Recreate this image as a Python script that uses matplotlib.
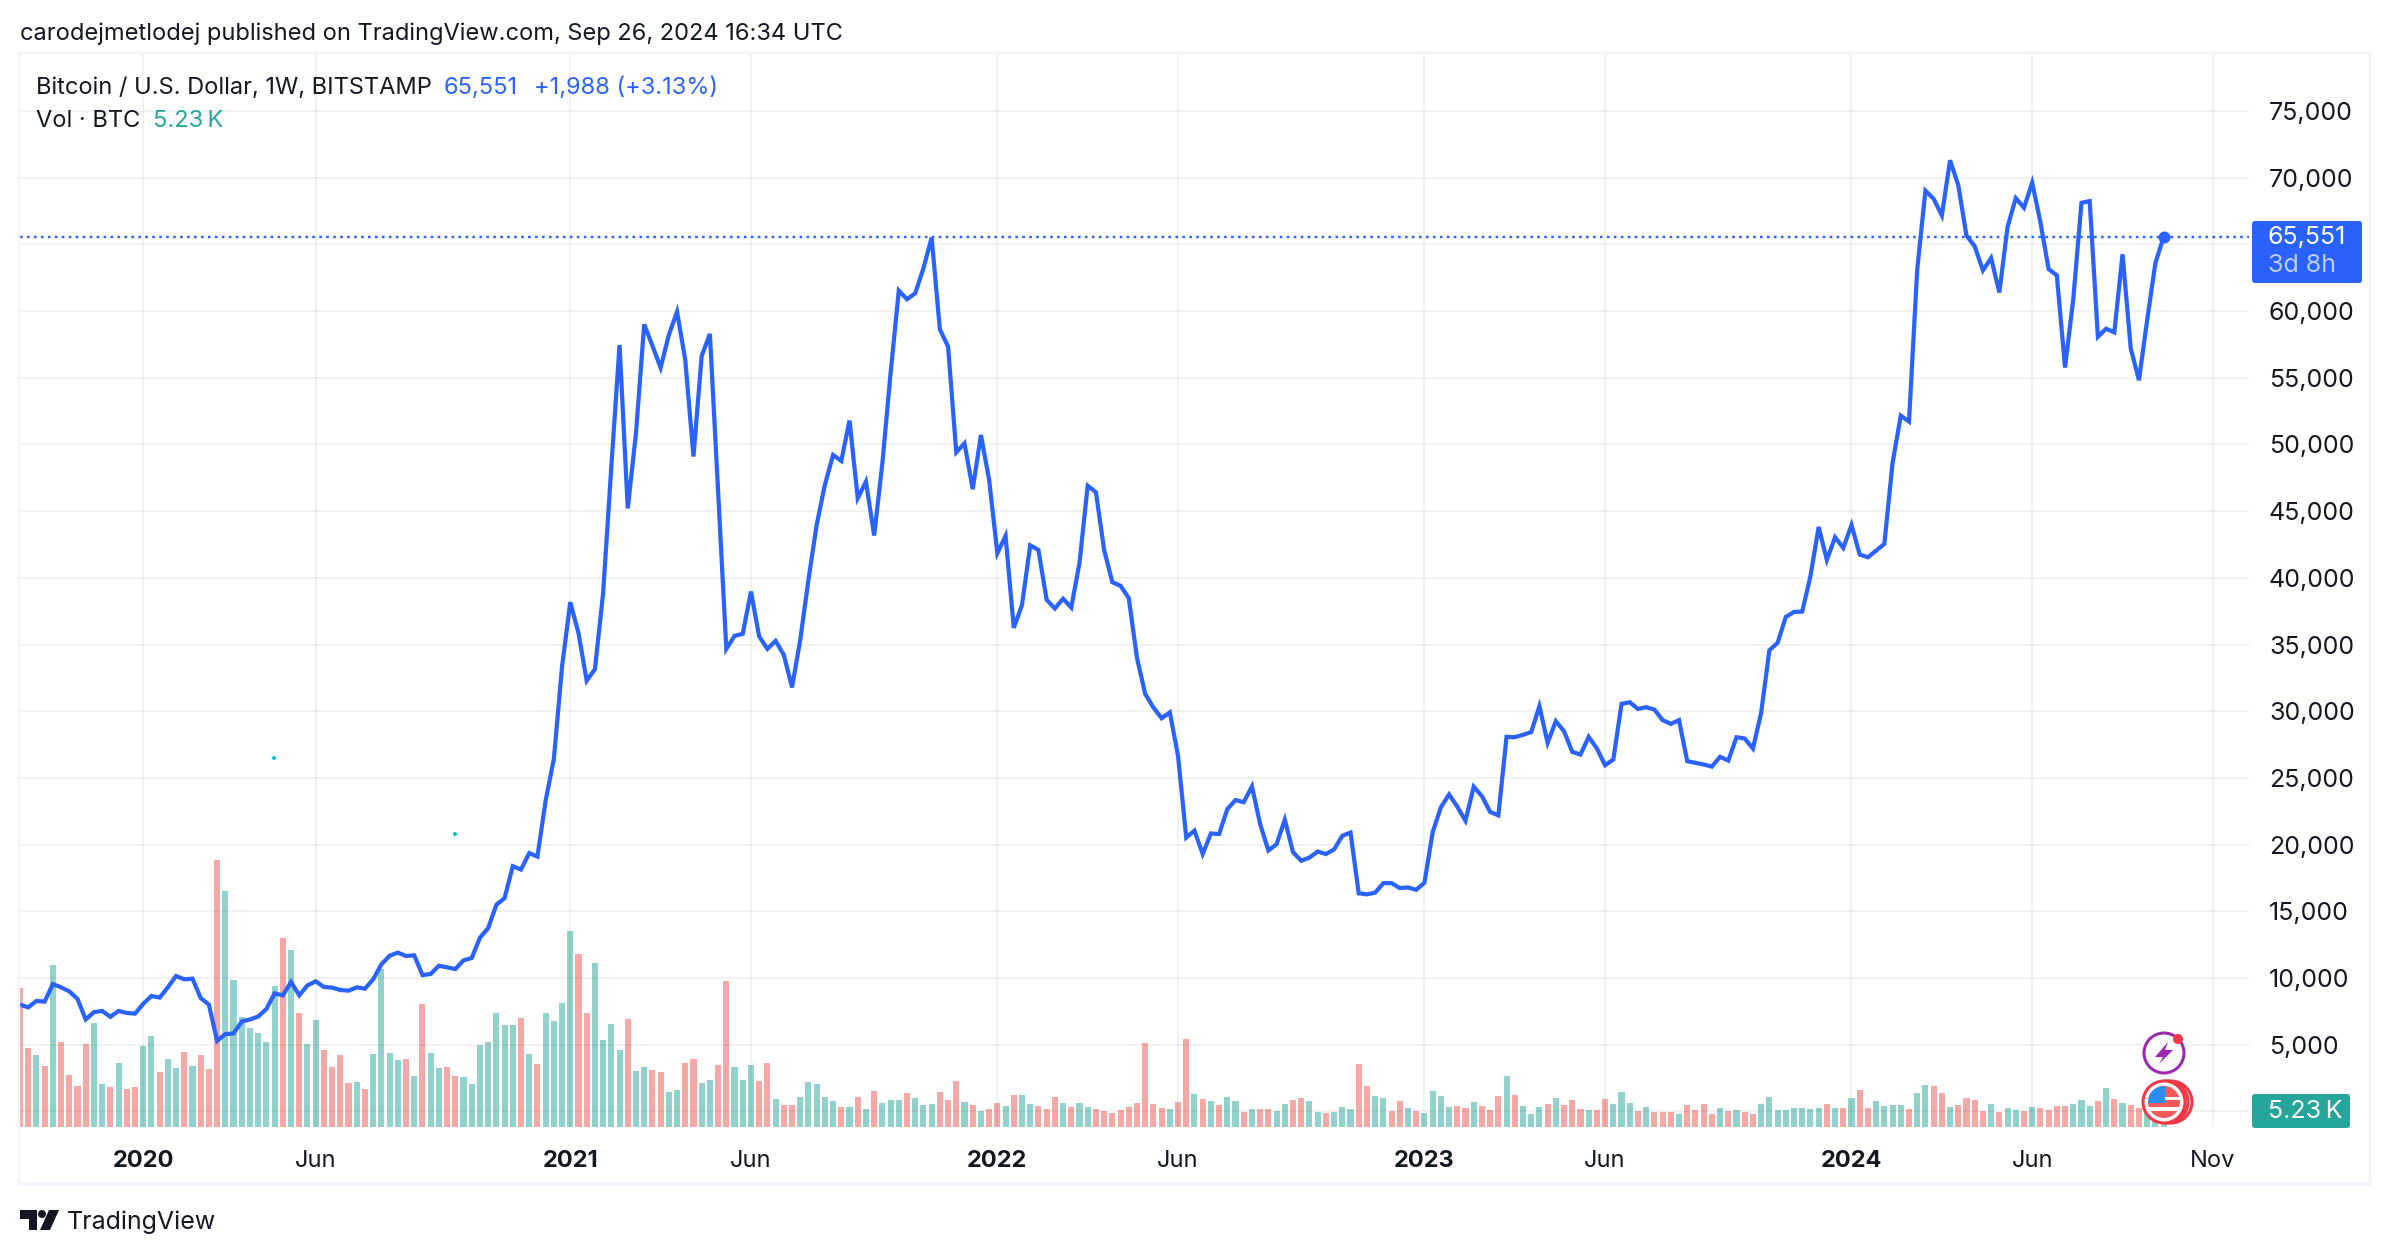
import numpy as np
import matplotlib
matplotlib.use('Agg')
import matplotlib.pyplot as plt
from matplotlib.patches import Rectangle, Circle, Polygon, FancyBboxPatch

plt.rcParams['font.family'] = ['Inter', 'DejaVu Sans']

# weekly close, USD
price = [
    8000, 7800, 8280, 8230, 9550, 9300, 9000, 8430, 6890, 7440,
    7530, 7090, 7530, 7380, 7330, 8060, 8650, 8530, 9300, 10150,
    9900, 9950, 8500, 8000, 5290, 5790, 5840, 6740, 6890, 7110,
    7680, 8850, 8700, 9700, 8700, 9450, 9750, 9330, 9280, 9100,
    9050, 9300, 9200, 9900, 11020, 11670, 11900, 11650, 11700, 10220,
    10300, 10920, 10800, 10670, 11320, 11500, 13020, 13740, 15490, 15990,
    18380, 18130, 19360, 19100, 23300, 26400, 33350, 38170, 35850, 32280,
    33150, 38850, 48340, 57450, 45200, 50840, 59000, 57400, 55750, 58200,
    59950, 56330, 49090, 56630, 58280, 46400, 34670, 35650, 35800, 38970,
    35600, 34670, 35270, 34220, 31780, 35350, 39850, 43970, 46970, 49210,
    48760, 51790, 45960, 47210, 43170, 48590, 55330, 61530, 60880, 61330,
    63200, 65500, 58630, 57330, 49410, 50080, 46640, 50710, 47340, 41840,
    43140, 36250, 37960, 42430, 42090, 38350, 37700, 38430, 37770, 41110,
    46900, 46420, 42090, 39670, 39400, 38480, 34000, 31300, 30280, 29470,
    29910, 26650, 20530, 21050, 19290, 20840, 20790, 22660, 23340, 23180,
    24360, 21530, 19560, 20030, 21870, 19430, 18790, 19030, 19480, 19290,
    19640, 20660, 20900, 16350, 16270, 16400, 17110, 17110, 16740, 16790,
    16610, 17140, 20920, 22790, 23760, 22840, 21790, 24340, 23630, 22450,
    22190, 28080, 28050, 28230, 28430, 30370, 27630, 29250, 28500, 26950,
    26750, 28080, 27200, 25950, 26380, 30550, 30670, 30170, 30300, 30120,
    29330, 29050, 29330, 26250, 26130, 26000, 25850, 26580, 26300, 28050,
    27950, 27200, 29880, 34570, 35120, 37070, 37440, 37470, 40120, 43810,
    41340, 43040, 42240, 43960, 41740, 41540, 42040, 42540, 48610, 52160,
    51710, 63090, 69020, 68410, 67160, 71300, 69420, 65650, 64850, 63040,
    63970, 61390, 66300, 68460, 67740, 69620, 66660, 63140, 62670, 55760,
    60880, 68110, 68240, 58070, 58670, 58400, 64250, 57190, 54810, 59330,
    63590, 65551]

# weekly volume, thousand BTC
volume = [
    45.5, 25.7, 23.4, 19.8, 52.9, 27.7, 16.9, 13.3, 27.0, 33.9,
    14.0, 13.0, 20.8, 12.3, 13.0, 26.4, 29.6, 17.9, 22.1, 19.2,
    24.4, 19.8, 23.4, 18.9, 87.2, 77.1, 48.0, 35.9, 32.3, 30.6,
    27.7, 46.0, 61.7, 57.8, 37.2, 27.0, 34.9, 25.1, 19.5, 23.4,
    14.3, 14.6, 12.3, 23.8, 51.6, 24.1, 21.8, 22.1, 16.6, 40.1,
    24.1, 19.2, 19.5, 16.6, 16.2, 14.0, 26.7, 27.7, 37.2, 33.2,
    33.2, 35.5, 23.8, 20.5, 37.2, 34.6, 40.4, 64.0, 56.5, 37.2,
    53.5, 28.3, 33.6, 25.1, 35.2, 18.2, 19.5, 18.5, 17.9, 11.3,
    12.0, 20.8, 22.1, 14.3, 15.3, 20.2, 47.6, 19.5, 15.3, 20.2,
    14.9, 20.8, 9.0, 7.1, 7.1, 9.7, 14.6, 14.0, 9.7, 8.4,
    6.4, 6.4, 9.7, 5.8, 11.7, 7.7, 8.7, 8.7, 11.0, 9.4,
    7.1, 7.4, 11.3, 8.7, 14.9, 8.1, 7.1, 5.1, 5.8, 7.7,
    6.8, 10.4, 10.4, 7.4, 6.8, 5.8, 9.7, 7.7, 6.4, 7.7,
    6.4, 5.8, 5.1, 4.5, 5.5, 6.4, 7.7, 27.4, 7.4, 6.1,
    5.8, 8.1, 28.7, 10.7, 9.0, 8.4, 7.1, 9.7, 8.4, 4.8,
    5.8, 5.8, 5.8, 5.1, 7.4, 8.7, 9.4, 8.4, 4.8, 4.5,
    4.8, 6.4, 5.8, 20.5, 13.3, 10.0, 9.4, 5.1, 8.4, 6.1,
    5.1, 4.5, 11.7, 10.0, 6.4, 6.8, 6.1, 8.1, 6.8, 5.5,
    10.0, 16.6, 10.4, 6.8, 4.1, 6.4, 7.4, 9.4, 7.1, 8.7,
    5.8, 5.5, 5.5, 9.0, 7.4, 11.3, 7.7, 5.1, 6.4, 4.8,
    4.8, 4.8, 4.1, 7.1, 5.5, 7.4, 4.1, 6.1, 5.1, 5.5,
    4.8, 4.1, 7.4, 9.7, 5.5, 5.5, 6.1, 6.1, 5.8, 6.1,
    7.4, 6.1, 6.1, 9.4, 12.0, 6.1, 8.4, 6.8, 7.1, 7.1,
    5.8, 11.0, 13.6, 13.3, 11.0, 6.4, 7.1, 9.4, 8.7, 5.1,
    7.4, 4.8, 6.1, 5.5, 5.1, 6.4, 6.1, 5.5, 6.8, 6.8,
    7.4, 8.7, 6.8, 8.4, 12.6, 9.0, 7.7, 7.1, 6.1, 6.0,
    4.5, 5.23]

# g = up week, r = down week
vol_dir = ("rrgrgrrrrg" "grgrrggrgg" "rgrrrggggg" "ggrgrggrrr" "rgrggggrgr"
           "ggrrgggggg" "grgrggggrr" "ggggrggrrg" "grrggrrggg" "rrgrrggggg"
           "rgrgrgggrg" "ggrrrgrgrr" "grggrrrgrg" "grrrrrrrrr" "grrgrgrggr"
           "grrggrrggr" "gggrrggrrg" "rggggrrgrr" "rgrgggrgrr" "rgrrgggrgr"
           "rrgrrrrgrg" "rrgggggggg" "rgrgrrgggg" "rggrrgrrrr" "grggrgrrrr"
           "gggrgrgrrg" "gg")

time_ticks = [15, 36, 67, 89, 119, 141, 171, 193, 223, 245, 267]
time_labels = ['2020', 'Jun', '2021', 'Jun', '2022', 'Jun', '2023', 'Jun', '2024', 'Jun', 'Nov']
price_ticks = list(range(0, 80000, 5000))
# 0 and 65,000 sit behind the badges
price_labels = ['' if p in (0, 65000) else '{:,}'.format(p) for p in price_ticks]

BLUE = '#2962FF'
TEAL = '#26A69A'
RED = '#EF5350'
DARK = '#131722'
W, H = 2390, 1254
px = 0.72  # points per pixel at dpi 100

fig = plt.figure(figsize=(W / 100, H / 100), dpi=100, facecolor='white')

# main pane, right edge stops where the price scale starts
L, R, T, B = 20, 2249, 54, 1127
ax_vol = fig.add_axes([L / W, 1 - B / H, (R - L) / W, (B - T) / H])
ax = fig.add_axes([L / W, 1 - B / H, (R - L) / W, (B - T) / H], sharex=ax_vol)
ax.patch.set_visible(False)

x = np.arange(len(price))
colors = [TEAL if d == 'g' else RED for d in vol_dir]
ax_vol.bar(x, volume, width=0.74, color=colors, alpha=0.5, linewidth=0)
ax_vol.set_ylim(0, (B - T) * 0.327)
ax_vol.set_yticks([])

ax.plot(x, price, color=BLUE, lw=4.2 * px, solid_joinstyle='miter', zorder=5)
ax.plot(x[-1], price[-1], 'o', color=BLUE, ms=12 * px, mew=0, zorder=6)
ax.axhline(price[-1], color=BLUE, lw=2.4 * px, ls=(0, (1.1, 1.8)), zorder=4)

ax.set_xlim(0, (R - L) / 8.213)
ax.set_ylim(5000 - (B - 1044.7) / 13.34 * 1000, 5000 + (1044.7 - T) / 13.34 * 1000)
ax.yaxis.tick_right()
ax.set_yticks(price_ticks)
ax.set_yticklabels(price_labels)
ax.set_xticks(time_ticks)
ax.set_xticklabels(time_labels)
ax.tick_params(axis='y', length=0, pad=20 * px, labelsize=18, labelcolor=DARK)
ax.tick_params(axis='x', length=0, pad=23 * px, labelsize=17, labelcolor=DARK)
ax_vol.tick_params(axis='x', length=0, labelbottom=False)
for lab in ax.get_xticklabels():
    if lab.get_text().isdigit():
        lab.set_fontweight('bold')
ax.grid(True, color='black', alpha=0.05, lw=2 * px)
ax.set_axisbelow(True)
for a in (ax, ax_vol):
    for s in a.spines.values():
        s.set_visible(False)

# overlay in pixel coordinates for frame, header, badges and logo
ov = fig.add_axes([0, 0, 1, 1], zorder=10)
ov.set_xlim(0, W)
ov.set_ylim(H, 0)
ov.axis('off')
ov.patch.set_visible(False)

ov.add_patch(Rectangle((19.5, 53), 2370 - 19.5, 1183.7 - 53, fill=False, ec='#F0F3FA', lw=2.5 * px))

ov.text(20, 34, 'carodejmetlodej published on TradingView.com, Sep 26, 2024 16:34 UTC',
        fontsize=17, color=DARK, va='center')
ov.text(36, 88, 'Bitcoin / U.S. Dollar, 1W, BITSTAMP', fontsize=17, color=DARK, va='center')
ov.text(444, 88, '65,551', fontsize=17, color=BLUE, va='center')
ov.text(534, 88, '+1,988 (+3.13%)', fontsize=17, color=BLUE, va='center')
ov.text(36, 121, 'Vol · BTC', fontsize=17, color=DARK, va='center')
ov.text(153, 121, '5.23\u2009K', fontsize=17, color=TEAL, va='center')

# last price badge
ov.add_patch(FancyBboxPatch((2252, 221), 110, 62, boxstyle='round,pad=0,rounding_size=3', fc=BLUE, ec='none'))
ov.text(2268, 237, '65,551', fontsize=18, color='white', va='center')
ov.text(2268, 265, '3d 8h', fontsize=18, color='#BCCDFF', va='center')

# last volume badge
ov.add_patch(FancyBboxPatch((2252, 1094), 98, 34, boxstyle='round,pad=0,rounding_size=3', fc=TEAL, ec='none'))
ov.text(2268, 1111, '5.23\u2009K', fontsize=18, color='white', va='center')

# stray specks on the chart
ov.add_patch(Circle((274, 758), 2, fc='#00BCD4', ec='none'))
ov.add_patch(Circle((455, 834), 2, fc='#00BCD4', ec='none'))

# event icons
ov.add_patch(Circle((2164, 1053), 20, fc='white', ec='#9C27B0', lw=3 * px))
ov.add_patch(Polygon([(2168, 1042), (2155, 1057), (2163, 1057), (2159, 1064),
                      (2173, 1050), (2165, 1050)], fc='#9C27B0', ec='none'))
ov.add_patch(Circle((2178, 1039), 5, fc='#F23645', ec='none'))
for dx in (7, 3):
    ov.add_patch(Circle((2164 + dx, 1102), 21, fc='white', ec='#F23645', lw=3 * px))
ov.add_patch(Circle((2164, 1102), 21, fc='white', ec='#F23645', lw=3 * px))
flag = Circle((2164, 1102), 16, transform=ov.transData)
for y0, h, col in [(1086, 11, '#F05A5A'), (1100, 7, '#F05A5A'), (1111, 8, '#F05A5A')]:
    r = Rectangle((2148, y0), 32, h, fc=col, ec='none')
    ov.add_patch(r)
    r.set_clip_path(flag)
r = Rectangle((2148, 1086), 17, 17, fc='#2B8CF0', ec='none')
ov.add_patch(r)
r.set_clip_path(flag)

# TradingView mark and wordmark
ov.add_patch(Polygon([(20, 1210), (37, 1210), (37, 1230), (29, 1230), (29, 1219), (20, 1219)],
                     fc=DARK, ec='none'))
ov.add_patch(Circle((42, 1214), 4, fc=DARK, ec='none'))
ov.add_patch(Polygon([(49, 1210), (59, 1210), (50, 1230), (40, 1230)], fc=DARK, ec='none'))
ov.text(67, 1222, 'TradingView', fontsize=18, color=DARK, va='center')

fig.savefig('out.png', dpi=100)
